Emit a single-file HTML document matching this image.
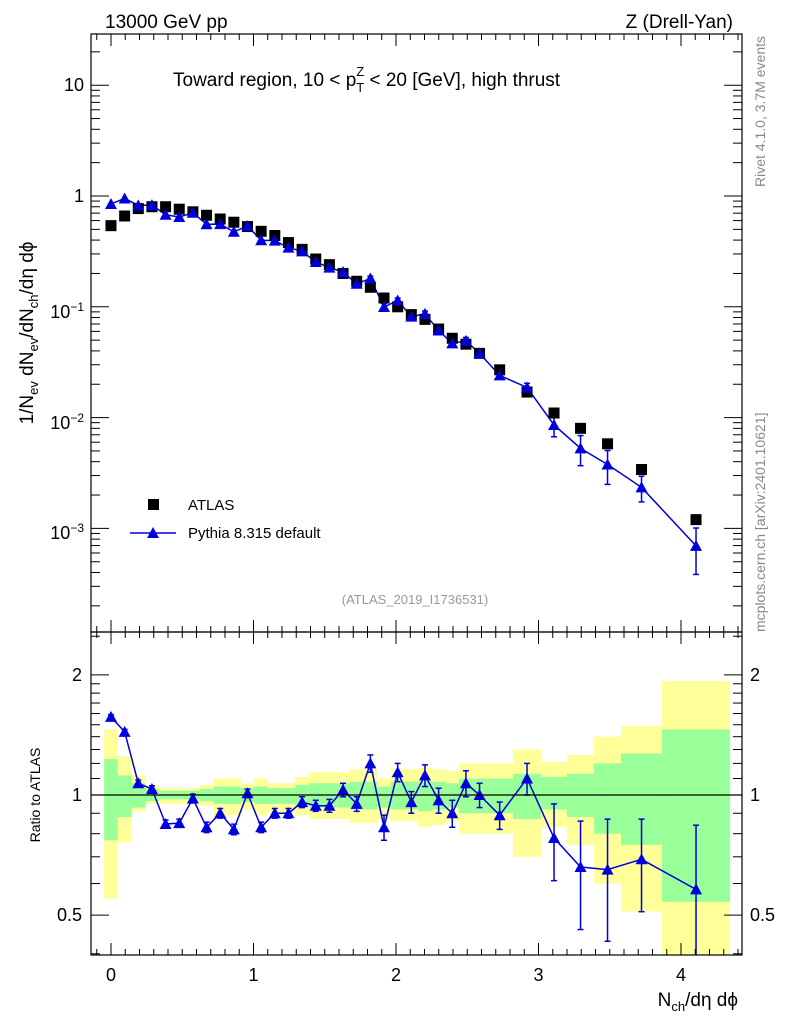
<!DOCTYPE html>
<html><head><meta charset="utf-8"><style>
body{margin:0;background:#fff;}
svg{display:block;font-family:"Liberation Sans",sans-serif;}
</style></head><body>
<svg id="chart" width="786" height="1024" viewBox="0 0 786 1024" xmlns="http://www.w3.org/2000/svg">
<g id="bands"></g>
<g id="marks"></g>
<g id="axes"></g>
<text x="105" y="28" font-size="19">13000 GeV pp</text>
<text x="733" y="28" font-size="19" text-anchor="end">Z (Drell-Yan)</text>
<text x="173" y="86" font-size="19">Toward region, 10 &lt; p<tspan font-size="13" dy="6">T</tspan><tspan font-size="13" dx="-8" dy="-16">Z</tspan><tspan dy="10"> &lt; 20 [GeV], high thrust</tspan></text>
<text transform="translate(33,333) rotate(-90)" font-size="19" text-anchor="middle">1/N<tspan font-size="13" dy="5">ev</tspan><tspan dy="-5"> dN</tspan><tspan font-size="13" dy="5">ev</tspan><tspan dy="-5">/dN</tspan><tspan font-size="13" dy="5">ch</tspan><tspan dy="-5">/dη dϕ</tspan></text>
<text transform="translate(40,795) rotate(-90)" font-size="14" text-anchor="middle">Ratio to ATLAS</text>
<text x="738" y="1006" font-size="19" text-anchor="end">N<tspan font-size="13" dy="5">ch</tspan><tspan dy="-5">/dη dϕ</tspan></text>
<text transform="translate(765,36) rotate(-90)" font-size="14" fill="#888" text-anchor="end">Rivet 4.1.0,  3.7M events</text>
<text transform="translate(765,632) rotate(-90)" font-size="14" fill="#888">mcplots.cern.ch [arXiv:2401.10621]</text>
<text x="415" y="604" font-size="13" fill="#999" text-anchor="middle">(ATLAS_2019_I1736531)</text>
<g>
<rect x="148" y="499" width="11" height="11" fill="#000"/>
<text x="188" y="510" font-size="15">ATLAS</text>
<line x1="130" y1="533" x2="176" y2="533" stroke="#0000dd" stroke-width="1.5"/>
<polygon points="153,527 159,538 147,538" fill="#0000dd"/>
<text x="188" y="538" font-size="15">Pythia 8.315 default</text>
</g>
</svg>
<script>
// ---- data ----
var binEdges = [-0.048,0.0478,0.1436,0.2394,0.3352,0.431,0.5268,0.6226,0.7184,0.8142,0.91,1.0058,1.1016,1.1974,1.2932,1.389,1.4848,1.5806,1.6764,1.7722,1.868,1.9638,2.0596,2.1554,2.2512,2.347,2.4428,2.5386,2.634,2.821,3.018,3.200,3.390,3.579,3.867,4.344];
var atlasValues = [0.54,0.66,0.77,0.80,0.80,0.76,0.72,0.67,0.62,0.58,0.53,0.48,0.44,0.38,0.33,0.27,0.24,0.20,0.17,0.15,0.12,0.10,0.085,0.077,0.063,0.052,0.046,0.038,0.027,0.017,0.011,0.0080,0.0058,0.0034,0.0012];
var ratioValues = [1.57,1.44,1.07,1.035,0.846,0.85,0.98,0.83,0.90,0.82,1.01,0.83,0.90,0.90,0.96,0.94,0.94,1.03,0.95,1.20,0.83,1.14,0.96,1.12,0.97,0.90,1.07,1.00,0.89,1.10,0.78,0.66,0.65,0.69,0.58];
var ratioErrors = [0.02,0.02,0.02,0.02,0.02,0.02,0.025,0.025,0.025,0.025,0.025,0.025,0.025,0.025,0.03,0.03,0.035,0.04,0.04,0.06,0.06,0.06,0.06,0.07,0.07,0.07,0.08,0.07,0.07,0.1,0.17,0.2,0.22,0.18,0.26];
var yellowUp = [1.46,1.25,1.12,1.06,1.04,1.04,1.04,1.06,1.10,1.10,1.07,1.10,1.07,1.07,1.11,1.14,1.14,1.14,1.16,1.16,1.10,1.16,1.16,1.17,1.16,1.15,1.20,1.20,1.20,1.30,1.21,1.26,1.40,1.49,1.93];
var yellowDn = [0.55,0.76,0.91,0.95,0.95,0.95,0.95,0.94,0.89,0.89,0.92,0.89,0.90,0.90,0.89,0.87,0.87,0.87,0.85,0.85,0.87,0.86,0.86,0.83,0.84,0.86,0.80,0.80,0.80,0.70,0.83,0.75,0.60,0.51,0.30];
var greenUp = [1.23,1.12,1.07,1.035,1.025,1.025,1.025,1.035,1.05,1.05,1.04,1.05,1.04,1.04,1.06,1.07,1.07,1.07,1.08,1.08,1.05,1.08,1.08,1.08,1.08,1.07,1.10,1.10,1.10,1.13,1.11,1.13,1.20,1.27,1.46];
var greenDn = [0.77,0.88,0.93,0.965,0.975,0.975,0.975,0.965,0.95,0.95,0.96,0.95,0.95,0.95,0.94,0.93,0.93,0.93,0.92,0.92,0.93,0.92,0.92,0.91,0.92,0.93,0.90,0.90,0.90,0.87,0.92,0.88,0.80,0.75,0.54];
var xTickLabels = ["0","1","2","3","4"];
var mainTickLabels = [[1,"10"],[0,"1"],[-1,"10<sup>−1</sup>"],[-2,"10<sup>−2</sup>"],[-3,"10<sup>−3</sup>"]];
var ratioTickLabels = [[2,"2"],[1,"1"],[0.5,"0.5"]];

// ---- axes ----
var L=91,R=742,T=34,M=632,B=955;
function X(v){return 111+142.5*v;}
function Y(v){return 196-110.8*Math.log10(v);}
function RY(v){return 795-399*Math.log10(v);}
var NS="http://www.w3.org/2000/svg";
function mk(tag,attrs,parent){var e=document.createElementNS(NS,tag);for(var k in attrs)e.setAttribute(k,attrs[k]);parent.appendChild(e);return e;}
var axes=document.getElementById('axes'),marks=document.getElementById('marks'),bands=document.getElementById('bands');

// bands
for(var i=0;i<atlasValues.length;i++){
 var x0=X(binEdges[i]),x1=X(binEdges[i+1]);
 var yb=mk('rect',{x:x0,y:RY(yellowUp[i]),width:x1-x0,height:Math.min(RY(yellowDn[i]),B)-RY(yellowUp[i]),fill:'#ffff99'},bands);
 
 
 var gb=mk('rect',{x:x0,y:RY(greenUp[i]),width:x1-x0,height:RY(greenDn[i])-RY(greenUp[i]),fill:'#99ff99'},bands);
 
 
}
mk('line',{x1:L,x2:R,y1:RY(1),y2:RY(1),stroke:'#000','stroke-width':1.2},axes);

// frames
mk('rect',{x:L,y:T,width:R-L,height:M-T,fill:'none',stroke:'#000','stroke-width':1.2},axes);
mk('rect',{x:L,y:M,width:R-L,height:B-M,fill:'none',stroke:'#000','stroke-width':1.2},axes);

// x ticks
for(var t=-0.1;t<=4.41;t+=0.1){
 var tv=Math.round(t*10)/10,major=Math.abs(tv-Math.round(tv))<1e-6,len=major?12:6,xx=X(tv);
 if(xx<L||xx>R)continue;
 [[T,1],[M,-1],[M,1],[B,-1]].forEach(function(p){mk('line',{x1:xx,x2:xx,y1:p[0],y2:p[0]+p[1]*len,stroke:'#000'},axes);});
}
xTickLabels.forEach(function(s,i){var e=mk('text',{x:X(i),y:981,'font-size':18,'text-anchor':'middle'},axes);e.textContent=s;
 
 });

// main y ticks
for(var d=-4;d<=1;d++){for(var m=1;m<10;m++){var v=m*Math.pow(10,d),yy=Y(v);if(yy<T||yy>M)continue;var len=m==1?18:9;
 mk('line',{x1:L,x2:L+len,y1:yy,y2:yy,stroke:'#000'},axes);mk('line',{x1:R,x2:R-len,y1:yy,y2:yy,stroke:'#000'},axes);}}
mainTickLabels.forEach(function(p){var e=mk('foreignObject',{x:20,y:Y(Math.pow(10,p[0]))-13,width:64,height:28},axes);
 
 
 e.innerHTML='<div xmlns="http://www.w3.org/1999/xhtml" style="font:18px Liberation Sans,sans-serif;text-align:right;line-height:26px">'+p[1].replace('<sup>','<sup style="font-size:12px">')+'</div>';});

// ratio y ticks
[0.4,0.5,0.6,0.7,0.8,0.9,1,1.1,1.2,1.3,1.4,1.5,1.6,1.7,1.8,1.9,2,2.5].forEach(function(v){var yy=RY(v);if(yy<M||yy>B)return;var len=(v==0.5||v==1||v==2)?18:9;
 mk('line',{x1:L,x2:L+len,y1:yy,y2:yy,stroke:'#000'},axes);mk('line',{x1:R,x2:R-len,y1:yy,y2:yy,stroke:'#000'},axes);});
ratioTickLabels.forEach(function(p){
 var a=mk('text',{x:82,y:RY(p[0])+6,'font-size':18,'text-anchor':'end'},axes);a.textContent=p[1];
 
 
 var b=mk('text',{x:750,y:RY(p[0])+6,'font-size':18},axes);b.textContent=p[1];
 
 });

function tri(cx,cy,parent,name){var p=mk('polygon',{points:(cx)+','+(cy-6)+' '+(cx+6)+','+(cy+5)+' '+(cx-6)+','+(cy+5),fill:'#0000dd'},parent);
 
 }

// main series
var pts=[],rpts=[];
for(var i=0;i<atlasValues.length;i++){
 var cx=(X(binEdges[i])+X(binEdges[i+1]))/2;
 var mc=atlasValues[i]*ratioValues[i];
 pts.push(cx+','+Y(mc));rpts.push(cx+','+RY(ratioValues[i]));
}
var ml=mk('polyline',{points:pts.join(' '),fill:'none',stroke:'#0000dd','stroke-width':1.5},marks);


var rl=mk('polyline',{points:rpts.join(' '),fill:'none',stroke:'#0000dd','stroke-width':1.5},marks);


for(var i=0;i<atlasValues.length;i++){
 var cx=(X(binEdges[i])+X(binEdges[i+1]))/2;
 var mc=atlasValues[i]*ratioValues[i],re=ratioErrors[i];
 var eu=Y(mc*(1+re/ratioValues[i])),ed=Y(mc*Math.max(0.05,1-re/ratioValues[i]));
 if(re>0.03){mk('line',{x1:cx,x2:cx,y1:eu,y2:ed,stroke:'#0000dd','stroke-width':1.5},marks);
  mk('line',{x1:cx-3,x2:cx+3,y1:eu,y2:eu,stroke:'#0000dd','stroke-width':1.5},marks);mk('line',{x1:cx-3,x2:cx+3,y1:ed,y2:ed,stroke:'#0000dd','stroke-width':1.5},marks);}
 var ru=RY(ratioValues[i]+re),rd=Math.min(B,RY(ratioValues[i]-re));
 mk('line',{x1:cx,x2:cx,y1:ru,y2:rd,stroke:'#0000dd','stroke-width':1.5},marks);
 mk('line',{x1:cx-3,x2:cx+3,y1:ru,y2:ru,stroke:'#0000dd','stroke-width':1.5},marks);
 if(rd<B)mk('line',{x1:cx-3,x2:cx+3,y1:rd,y2:rd,stroke:'#0000dd','stroke-width':1.5},marks);
 var sq=mk('rect',{x:cx-5.5,y:Y(atlasValues[i])-5.5,width:11,height:11,fill:'#000'},marks);
 
 
 tri(cx,Y(mc),marks,'pythia-point');
 tri(cx,RY(ratioValues[i]),marks,'ratio-point');
}
</script>
</body></html>
